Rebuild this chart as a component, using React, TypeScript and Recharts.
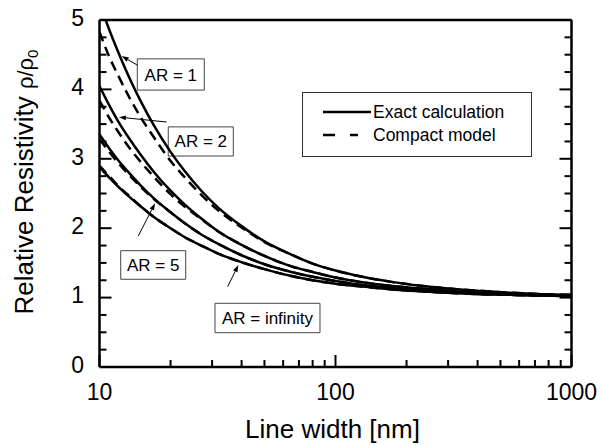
import React from "react"
import { Legend, Line, LineChart, ReferenceArea, ReferenceLine, XAxis, YAxis } from "recharts"

// line width [nm]
const widths = [10, 11, 12, 13.5, 15, 17, 20, 23, 27, 32, 40, 50, 65, 80, 100, 130, 170, 230, 300, 400, 550, 750, 1000]

// exact calculation
const exactAR1 = [5.25, 4.86, 4.54, 4.14, 3.82, 3.48, 3.1, 2.82, 2.54, 2.29, 2.03, 1.81, 1.62, 1.49, 1.39, 1.3, 1.23, 1.17, 1.13, 1.1, 1.07, 1.05, 1.04]
const exactAR2 = [4.05, 3.77, 3.54, 3.27, 3.05, 2.81, 2.54, 2.34, 2.14, 1.95, 1.76, 1.6, 1.45, 1.37, 1.29, 1.22, 1.17, 1.13, 1.1, 1.07, 1.05, 1.04, 1.03]
const exactAR5 = [3.35, 3.15, 2.98, 2.78, 2.61, 2.43, 2.23, 2.07, 1.91, 1.77, 1.61, 1.48, 1.37, 1.3, 1.24, 1.18, 1.14, 1.1, 1.08, 1.06, 1.04, 1.03, 1.02]
const exactARinf = [2.88, 2.73, 2.6, 2.44, 2.31, 2.16, 2.0, 1.87, 1.75, 1.63, 1.51, 1.41, 1.31, 1.25, 1.2, 1.16, 1.12, 1.09, 1.07, 1.05, 1.04, 1.03, 1.02]

// compact model
const compactAR1 = [4.83, 4.47, 4.2, 3.86, 3.59, 3.31, 2.97, 2.73, 2.48, 2.25, 2.01, 1.8, 1.62, 1.49, 1.39, 1.3, 1.23, 1.17, 1.13, 1.1, 1.07, 1.05, 1.04]
const compactAR2 = [3.84, 3.59, 3.39, 3.14, 2.95, 2.74, 2.49, 2.31, 2.13, 1.95, 1.76, 1.6, 1.45, 1.37, 1.29, 1.22, 1.17, 1.13, 1.1, 1.07, 1.05, 1.04, 1.03]
const compactAR5 = [3.28, 3.1, 2.94, 2.75, 2.59, 2.42, 2.23, 2.07, 1.91, 1.77, 1.61, 1.48, 1.37, 1.3, 1.24, 1.18, 1.14, 1.1, 1.08, 1.06, 1.04, 1.03, 1.02]
const compactARinf = [2.9, 2.75, 2.61, 2.45, 2.31, 2.16, 2.0, 1.87, 1.75, 1.63, 1.51, 1.41, 1.31, 1.25, 1.2, 1.16, 1.12, 1.09, 1.07, 1.05, 1.04, 1.03, 1.02]

const xTicks = [10, 20, 30, 40, 50, 60, 70, 80, 90, 100, 200, 300, 400, 500, 600, 700, 800, 900, 1000]
const xLabeled = [10, 100, 1000]
const yTicks = [0, 0.25, 0.5, 0.75, 1, 1.25, 1.5, 1.75, 2, 2.25, 2.5, 2.75, 3, 3.25, 3.5, 3.75, 4, 4.25, 4.5, 4.75, 5]

// boxes: [x1, x2, y1, y2], arrows from -> to (data units)
const annotations = [
  { text: "AR = 1", box: [14.46, 27.8, 3.99, 4.44], from: [14.46, 4.35], to: [12.42, 4.48] },
  { text: "AR = 2", box: [19.56, 36.9, 3.04, 3.46], from: [19.27, 3.53], to: [12.09, 3.6] },
  { text: "AR = 5", box: [12.3, 23.19, 1.264, 1.676], from: [14.6, 1.888], to: [17.19, 2.359] },
  { text: "AR = infinity", box: [30.86, 85.96, 0.494, 0.918], from: [34.9, 1.157], to: [38.76, 1.47] },
]

const data = widths.map((w, i) => ({
  w,
  e1: exactAR1[i],
  e2: exactAR2[i],
  e5: exactAR5[i],
  einf: exactARinf[i],
  c1: compactAR1[i],
  c2: compactAR2[i],
  c5: compactAR5[i],
  cinf: compactARinf[i],
}))

const FONT = "'Liberation Sans', Arial, sans-serif"
const MAJOR = 12
const MINOR = 7
const LW = 2.5

function BottomTick(props: any) {
  const { x, y, payload } = props
  const major = xLabeled.includes(payload.value)
  return (
    <g>
      <line x1={x} y1={y} x2={x} y2={y - (major ? MAJOR : MINOR)} stroke="#000" strokeWidth={2} />
      {major && (
        <text x={x} y={y + 33} textAnchor="middle" fontSize={23} fill="#000">
          {payload.value}
        </text>
      )}
    </g>
  )
}

function TopTick(props: any) {
  const { x, y, payload } = props
  const major = xLabeled.includes(payload.value)
  return <line x1={x} y1={y} x2={x} y2={y + (major ? MAJOR : MINOR)} stroke="#000" strokeWidth={2} />
}

function LeftTick(props: any) {
  const { x, y, payload } = props
  const major = Number.isInteger(payload.value)
  return (
    <g>
      <line x1={x} y1={y} x2={x + (major ? MAJOR : MINOR)} y2={y} stroke="#000" strokeWidth={2} />
      {major && (
        <text x={x - 15.5} y={y - 2.5} dy="0.36em" textAnchor="end" fontSize={23} fill="#000">
          {payload.value}
        </text>
      )}
    </g>
  )
}

function RightTick(props: any) {
  const { x, y, payload } = props
  const major = Number.isInteger(payload.value)
  return <line x1={x} y1={y} x2={x - (major ? MAJOR : MINOR)} y2={y} stroke="#000" strokeWidth={2} />
}

function Arrow(props: any) {
  const { x1, y1, x2, y2 } = props
  const a = Math.atan2(y2 - y1, x2 - x1)
  const len = 7
  const half = 2.4
  const bx = x2 - len * Math.cos(a)
  const by = y2 - len * Math.sin(a)
  const p1 = `${bx + half * Math.sin(a)},${by - half * Math.cos(a)}`
  const p2 = `${bx - half * Math.sin(a)},${by + half * Math.cos(a)}`
  return (
    <g>
      <line x1={x1} y1={y1} x2={bx} y2={by} stroke="#000" strokeWidth={1} />
      <polygon points={`${x2},${y2} ${p1} ${p2}`} fill="#000" />
    </g>
  )
}

function YTitle() {
  return (
    <text x={33} y={182} transform="rotate(-90 33 182)" textAnchor="middle" fontSize={26} fill="#000">
      Relative Resistivity <tspan fontSize={22}>ρ/ρ</tspan>
      <tspan fontSize={15} dy={5}>0</tspan>
    </text>
  )
}

function XTitle(props: any) {
  const { viewBox } = props
  return (
    <text x={viewBox.x + viewBox.width / 2 - 3} y={viewBox.y + 71} textAnchor="middle" fontSize={26} fill="#000">
      Line width [nm]
    </text>
  )
}

function LegendBox() {
  return (
    <div style={{ width: 230, height: 65, boxSizing: "border-box", border: "1px solid #333", background: "#fff" }}>
      <svg width={228} height={63} style={{ display: "block" }}>
        <line x1={20} y1={19} x2={68} y2={19} stroke="#000" strokeWidth={LW} />
        <text x={70} y={19} dy="0.36em" fontSize={17.5} fill="#000">
          Exact calculation
        </text>
        <line x1={20} y1={42} x2={55} y2={42} stroke="#000" strokeWidth={LW} strokeDasharray="12 15" />
        <text x={70} y={42} dy="0.36em" fontSize={17.5} fill="#000">
          Compact model
        </text>
      </svg>
    </div>
  )
}

export default function App() {
  return (
    <div style={{ fontFamily: FONT, width: 602, height: 445, overflow: "hidden" }}>
      <style>{"html,body{margin:0;padding:0;overflow:hidden}"}</style>
      <LineChart
        width={602}
        height={445}
        data={data}
        margin={{ top: 10, right: 20.5, left: 39.5, bottom: 18 }}
        style={{ fontFamily: FONT }}
      >
        <XAxis
          dataKey="w"
          type="number"
          scale="log"
          domain={[10, 1000]}
          allowDataOverflow
          ticks={xTicks}
          interval={0}
          height={60}
          tickSize={0}
          tickMargin={0}
          tickLine={false}
          axisLine={{ stroke: "#000", strokeWidth: 2.5 }}
          tick={BottomTick}
          label={<XTitle />}
        />
        <XAxis
          xAxisId="top"
          orientation="top"
          type="number"
          scale="log"
          domain={[10, 1000]}
          allowDataOverflow
          ticks={xTicks}
          interval={0}
          height={10}
          tickSize={0}
          tickMargin={0}
          tickLine={false}
          axisLine={{ stroke: "#000", strokeWidth: 2.5 }}
          tick={TopTick}
        />
        <YAxis
          type="number"
          domain={[0, 5]}
          allowDataOverflow
          ticks={yTicks}
          interval={0}
          width={60}
          tickSize={0}
          tickMargin={0}
          tickLine={false}
          axisLine={{ stroke: "#000", strokeWidth: 2.5 }}
          tick={LeftTick}
          label={<YTitle />}
        />
        <YAxis
          yAxisId="right"
          orientation="right"
          type="number"
          domain={[0, 5]}
          allowDataOverflow
          ticks={yTicks}
          interval={0}
          width={10}
          tickSize={0}
          tickMargin={0}
          tickLine={false}
          axisLine={{ stroke: "#000", strokeWidth: 2.5 }}
          tick={RightTick}
        />
        <Legend
          layout="vertical"
          align="center"
          verticalAlign="middle"
          content={<LegendBox />}
          wrapperStyle={{ left: 302, top: 92, width: 230, height: 65 }}
        />

        <Line dataKey="e1" type="monotone" stroke="#000" strokeWidth={LW} dot={false} isAnimationActive={false} legendType="none" />
        <Line dataKey="e2" type="monotone" stroke="#000" strokeWidth={LW} dot={false} isAnimationActive={false} legendType="none" />
        <Line dataKey="e5" type="monotone" stroke="#000" strokeWidth={LW} dot={false} isAnimationActive={false} legendType="none" />
        <Line dataKey="einf" type="monotone" stroke="#000" strokeWidth={LW} dot={false} isAnimationActive={false} legendType="none" />
        <Line dataKey="c1" type="monotone" stroke="#000" strokeWidth={LW} strokeDasharray="10 6" dot={false} isAnimationActive={false} legendType="none" />
        <Line dataKey="c2" type="monotone" stroke="#000" strokeWidth={LW} strokeDasharray="10 6" dot={false} isAnimationActive={false} legendType="none" />
        <Line dataKey="c5" type="monotone" stroke="#000" strokeWidth={LW} strokeDasharray="10 6" dot={false} isAnimationActive={false} legendType="none" />
        <Line dataKey="cinf" type="monotone" stroke="#000" strokeWidth={LW} strokeDasharray="10 6" dot={false} isAnimationActive={false} legendType="none" />

        {annotations.map((a) => (
          <ReferenceArea
            key={a.text}
            x1={a.box[0]}
            x2={a.box[1]}
            y1={a.box[2]}
            y2={a.box[3]}
            fill="#fff"
            fillOpacity={1}
            stroke="#444"
            strokeWidth={1}
            label={{ value: a.text, position: "center", fontSize: 17, fill: "#000" }}
          />
        ))}
        {annotations.map((a) => (
          <ReferenceLine
            key={a.text + "-arrow"}
            segment={[
              { x: a.from[0], y: a.from[1] },
              { x: a.to[0], y: a.to[1] },
            ]}
            shape={Arrow}
          />
        ))}
      </LineChart>
    </div>
  )
}
